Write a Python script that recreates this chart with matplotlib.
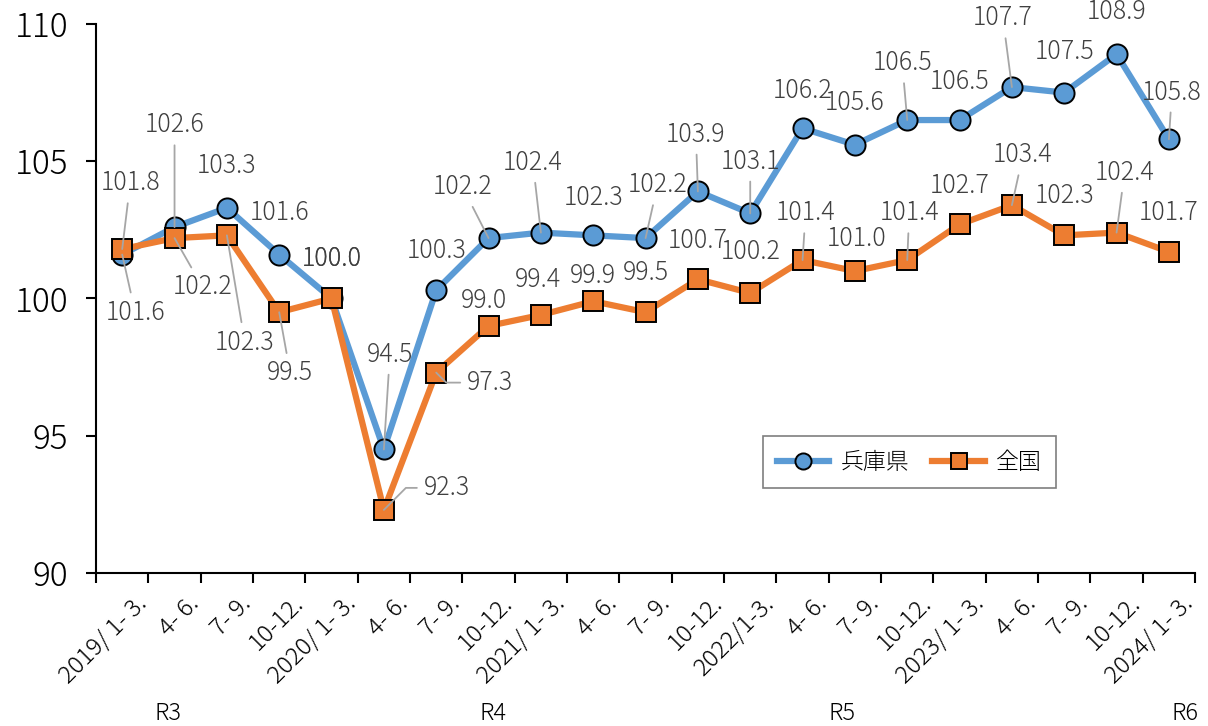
import matplotlib
matplotlib.use("Agg")
import matplotlib.pyplot as plt
import matplotlib.transforms as mtransforms
import numpy as np

plt.rcParams['font.family'] = ['Noto Sans CJK JP', 'DejaVu Sans']
plt.rcParams['font.weight'] = 'light'

# data
quarters = ["2019/ 1- 3.", "4- 6.", "7- 9.", "10-12.",
            "2020/ 1- 3.", "4- 6.", "7- 9.", "10-12.",
            "2021/ 1- 3.", "4- 6.", "7- 9.", "10-12.",
            "2022/1-3.", "4- 6.", "7- 9.", "10-12.",
            "2023/ 1- 3.", "4- 6.", "7- 9.", "10-12.",
            "2024/ 1- 3."]
hyogo = [101.6, 102.6, 103.3, 101.6, 100.0, 94.5, 100.3, 102.2, 102.4, 102.3, 102.2,
         103.9, 103.1, 106.2, 105.6, 106.5, 106.5, 107.7, 107.5, 108.9, 105.8]
zenkoku = [101.8, 102.2, 102.3, 99.5, 100.0, 92.3, 97.3, 99.0, 99.4, 99.9, 99.5,
           100.7, 100.2, 101.4, 101.0, 101.4, 102.7, 103.4, 102.3, 102.4, 101.7]
eras = ["R3", "R4", "R5", "R6"]

# label placement (pixel offsets from the point, leader style)
hyogo_off = [(13, -58, 1), (0, 102, 1), (0, 42, 0), (0, 42, 0), (0, 40, 0), (6, 95, 1),
             (0, 40, 0), (-26, 51, 1), (-8, 70, 1), (0, 38, 0), (12, 53, 1), (-2, 57, 1),
             (0, 52, 1), (0, 38, 0), (0, 42, 0), (-5, 57, 1), (0, 38, 0), (-9, 69, 1),
             (0, 41, 0), (0, 42, 0), (3, 47, 1)]
zen_off = [(8, 66, 1), (28, -49, 1), (18, -107, 1), (11, -61, 1), (0, 40, 0), (63, 22, 45),
           (54, -10, -45), (-5, 25, 0), (-3, 35, 0), (0, 25, 0), (0, 39, 0), (0, 39, 0),
           (0, 41, 0), (3, 47, 1), (2, 32, 0), (2, 47, 1), (0, 39, 0), (11, 50, 1),
           (0, 40, 0), (8, 60, 1), (0, 39, 0)]
era_x = [0.87, 7.09, 13.75, 20.31]

blue = '#5B9BD5'
orange = '#ED7D31'
label_color = '#404040'
leader_color = '#A6A6A6'

fig = plt.figure(figsize=(12.08, 7.26), dpi=100)
ax = fig.add_axes([0.0795, 0.2107, 0.9098, 0.7563])

x = np.arange(len(quarters))
ax.plot(x, hyogo, color=blue, lw=4.5, marker='o', ms=14.5, mfc=blue, mec='black',
        mew=1.4, label='兵庫県', zorder=2)
ax.plot(x, zenkoku, color=orange, lw=4.5, marker='s', ms=13.8, mfc=orange, mec='black',
        mew=1.4, label='全国', zorder=2)


def add_labels(vals, offs):
    for i, (v, (dx, dy, ld)) in enumerate(zip(vals, offs)):
        kw = dict(xy=(i, v), xytext=(dx, dy), textcoords='offset pixels',
                  ha='center', va='center', fontsize=18, color=label_color, zorder=4)
        if ld == 1:
            kw['arrowprops'] = dict(arrowstyle='-', color=leader_color, lw=1.3,
                                    shrinkA=3, shrinkB=0)
        elif ld != 0:
            kw['arrowprops'] = dict(arrowstyle='-', color=leader_color, lw=1.3,
                                    shrinkA=3, shrinkB=0,
                                    connectionstyle='angle,angleA=0,angleB=%d,rad=0' % ld)
        ax.annotate('%.1f' % v, **kw)


add_labels(hyogo, hyogo_off)
add_labels(zenkoku, zen_off)

ax.set_ylim(90, 110)
ax.set_xlim(-0.5, len(quarters) - 0.5)
ax.set_yticks([90, 95, 100, 105, 110])
ax.tick_params(axis='y', direction='out', length=7, width=1.5, labelsize=24, pad=13,
               colors='black')
ax.set_xticks(x)
ax.set_xticks(np.arange(-0.5, len(quarters), 1), minor=True)
ax.set_xticklabels(quarters, rotation=45, ha='right', rotation_mode='anchor', fontsize=17.5)
ax.tick_params(axis='x', which='major', length=0, pad=13)
ax.tick_params(axis='x', which='minor', direction='out', length=7, width=1.5)
offset = mtransforms.ScaledTranslation(0.12, 0, fig.dpi_scale_trans)
for lab in ax.get_xticklabels():
    lab.set_transform(lab.get_transform() + offset)

for s in ['top', 'right']:
    ax.spines[s].set_visible(False)
for s in ['left', 'bottom']:
    ax.spines[s].set_linewidth(1.5)
    ax.spines[s].set_color('black')

trans = mtransforms.blended_transform_factory(ax.transData, ax.transAxes)
for ex, e in zip(era_x, eras):
    ax.text(ex, -0.255, e, transform=trans, ha='center', va='center', fontsize=17,
            color='black')

leg = ax.legend(loc='center', bbox_to_anchor=(0.74, 0.202), ncol=2, fontsize=16.5,
                frameon=True, fancybox=False, edgecolor='#7F7F7F', framealpha=1,
                markerscale=0.8, handlelength=2.3, handletextpad=0.5,
                columnspacing=1.0, borderpad=0.6)
leg.get_frame().set_linewidth(1.2)

fig.savefig('out.png', dpi=100)
